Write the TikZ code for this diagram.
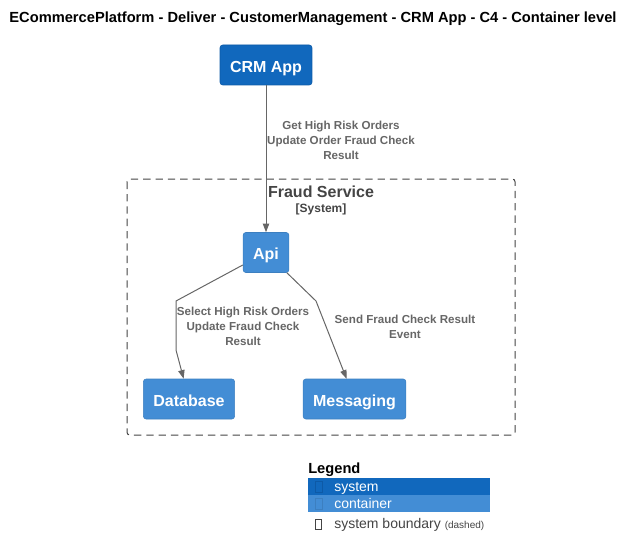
\documentclass[tikz,border=0pt]{standalone}
\usepackage{fontspec}
\setmainfont{Liberation Sans}
\usetikzlibrary{arrows.meta}
\definecolor{sysblue}{HTML}{1168BD}
\definecolor{sysedge}{HTML}{0D5AA7}
\definecolor{conblue}{HTML}{438DD5}
\definecolor{conedge}{HTML}{3C7FC0}
\definecolor{relgray}{HTML}{666666}
\definecolor{bndgray}{HTML}{444444}

\begin{document}
\begin{tikzpicture}[x=0.75pt,y=-0.75pt,
	box/.style={rounded corners=2pt,text=white,font=\fontsize{12}{14}\selectfont\bfseries,
		inner xsep=7.5pt,inner ysep=0pt,minimum height=30pt,text height=11pt,text depth=0pt},
	rel/.style={relgray,line width=0.75pt,-{Triangle[length=6.5pt,width=4.8pt]}},
	lbl/.style={relgray,font=\fontsize{8.7}{11.25}\selectfont\bfseries,align=center},
	legfont/.style={font=\fontsize{10.5}{12}\selectfont,inner sep=0pt,anchor=base west}
	]
	\useasboundingbox (0,0) rectangle (634,556);

	\node[font=\fontsize{11}{13}\selectfont\bfseries,inner sep=0pt,anchor=base] (title) at (313,23)
		{ECommercePlatform - Deliver - CustomerManagement - CRM App - C4 - Container level};

	\draw[bndgray,line width=0.75pt,dash pattern=on 5.5pt off 3.75pt,rounded corners=2pt]
		(127,179) rectangle (515,435);
	\node[bndgray,font=\fontsize{12}{14}\selectfont\bfseries] (fsname) at (321,191.5) {Fraud Service};
	\node[bndgray,font=\fontsize{9}{11}\selectfont\bfseries] (fstype) at (321,209) {[System]};

	\node[box,fill=sysblue,draw=sysedge] (crm) at (266,65) {CRM App};
	\node[box,fill=conblue,draw=conedge] (api) at (266,252.5) {Api};
	\node[box,fill=conblue,draw=conedge] (db) at (189,399) {Database};
	\node[box,fill=conblue,draw=conedge] (msg) at (354.5,399) {Messaging};

	\draw[rel] (crm) -- (api);
	\draw[rel] (api) -- (176,301) -- (176,350) -- (db);
	\draw[rel] (api) -- (316,301) -- (msg);

	\node[lbl] (crmlbl) at (341,140) {Get High Risk Orders\\Update Order Fraud Check\\Result};
	\node[lbl] (dblbl) at (243,326) {Select High Risk Orders\\Update Fraud Check\\Result};
	\node[lbl] (msglbl) at (405,326.5) {Send Fraud Check Result\\Event};

	\node[font=\fontsize{11}{13}\selectfont\bfseries,inner sep=0pt,anchor=base west] (legend) at (308,473.5) {Legend};
	\foreach \y/\name/\col/\edge in {486.5/system/sysblue/sysedge,503.5/container/conblue/conedge}{
		\fill[\col] (308,\y-8.5) rectangle (490,\y+8.5);
		\draw[\edge,line width=0.6pt] (315,\y-5) rectangle (322,\y+5.5);
		\node[legfont,white] (leg\name) at (334,\y+5) {\name};
	}
	\draw[bndgray,line width=0.5pt] (315.5,519.5) rectangle (321.5,529);
	\node[legfont,bndgray] (legbound) at (334,528)
		{system boundary {\fontsize{7.5}{9}\selectfont(dashed)}};
\end{tikzpicture}
\end{document}
